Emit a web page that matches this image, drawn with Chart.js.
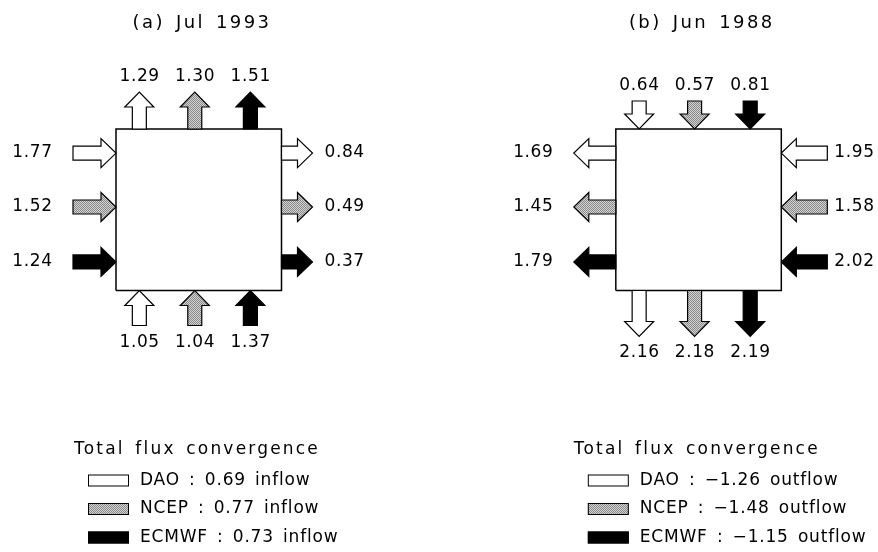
<!DOCTYPE html>
<html>
<head>
<meta charset="utf-8">
<script src="https://cdn.jsdelivr.net/npm/chart.js@4.4.1/dist/chart.umd.min.js"></script>
<style>
  html, body { margin: 0; padding: 0; background: #fff; }
  canvas { display: block; }
</style>
</head>
<body>
<canvas id="flux" width="878" height="552"></canvas>
<script>
// ---- data -------------------------------------------------------------
const models = ['DAO', 'NCEP', 'ECMWF'];
const panelTitles = ['(a) Jul 1993', '(b) Jun 1988'];

// Signed boundary fluxes: + eastward across W/E faces, + northward across S/N faces
const julWest  = [1.77, 1.52, 1.24];
const julEast  = [0.84, 0.49, 0.37];
const julSouth = [1.05, 1.04, 1.37];
const julNorth = [1.29, 1.30, 1.51];

const junWest  = [-1.69, -1.45, -1.79];
const junEast  = [-1.95, -1.58, -2.02];
const junSouth = [-2.16, -2.18, -2.19];
const junNorth = [-0.64, -0.57, -0.81];

// Net flux convergence over the box
const julConvergence = [0.69, 0.77, 0.73];
const junConvergence = [-1.26, -1.48, -1.15];

const legendTitle = 'Total flux convergence';

// ---- layout (box units: each box spans 0..1 in x and y) ----------------
const panelOffset = [0, 3.02];
const edgeSlots = [0.141, 0.476, 0.812];   // along N/S faces, one per model
const sideSlots = [0.851, 0.517, 0.177];   // along W/E faces, one per model

const panels = [
  { title: panelTitles[0], W: julWest, E: julEast, S: julSouth, N: julNorth, conv: julConvergence,
    len: { N: 37, S: 35, W: 43, E: 31 }, gap: { N: 15, S: 17, W: 21, E: 12 } },
  { title: panelTitles[1], W: junWest, E: junEast, S: junSouth, N: junNorth, conv: junConvergence,
    len: { N: 28, S: 46, W: 42, E: 46 }, gap: { N: 15, S: 16, W: 21, E: 7 } }
];

// outward normals in canvas pixels
const normals = { W: [-1, 0], E: [1, 0], S: [0, 1], N: [0, -1] };

// stippled grey used for NCEP
function stipple() {
  const c = document.createElement('canvas');
  c.width = 2; c.height = 2;
  const g = c.getContext('2d');
  g.fillStyle = '#d2d2d2'; g.fillRect(0, 0, 2, 2);
  g.fillStyle = '#8a8a8a'; g.fillRect(0, 0, 1, 1); g.fillRect(1, 1, 1, 1);
  return g.createPattern(c, 'repeat');
}
const ctx0 = document.getElementById('flux').getContext('2d');
const modelFill = ['#ffffff', stipple(), '#000000'];

// ---- datasets ---------------------------------------------------------
const datasets = [];

// box outlines
panelOffset.forEach(ox => {
  datasets.push({
    kind: 'box',
    type: 'line',
    data: [{x: ox, y: 0}, {x: ox + 1, y: 0}, {x: ox + 1, y: 1}, {x: ox, y: 1}, {x: ox, y: 0}],
    borderColor: '#000',
    borderWidth: 1.5,
    pointRadius: 0,
    fill: false,
    tension: 0
  });
});

// one arrow set per model
models.forEach((m, mi) => {
  const pts = [];
  panels.forEach((p, pi) => {
    const ox = panelOffset[pi];
    pts.push({ x: ox,                   y: sideSlots[mi], v: p.W[mi], side: 'W', panel: pi });
    pts.push({ x: ox + 1,               y: sideSlots[mi], v: p.E[mi], side: 'E', panel: pi });
    pts.push({ x: ox + edgeSlots[mi],   y: 0,             v: p.S[mi], side: 'S', panel: pi });
    pts.push({ x: ox + edgeSlots[mi],   y: 1,             v: p.N[mi], side: 'N', panel: pi });
  });
  datasets.push({
    kind: 'arrows',
    label: m,
    data: pts,
    arrowFill: modelFill[mi],
    pointRadius: 0,
    showLine: false
  });
});

// ---- drawing helpers --------------------------------------------------
const FONT = '"DejaVu Sans", sans-serif';

function drawArrow(ctx, tail, tip, fill) {
  const dx = tip[0] - tail[0], dy = tip[1] - tail[1];
  const len = Math.hypot(dx, dy);
  const ux = dx / len, uy = dy / len;
  const px = -uy, py = ux;
  const hw = 7, hh = 14.5, hl = 15;
  const hx = tip[0] - ux * hl, hy = tip[1] - uy * hl;
  ctx.beginPath();
  ctx.moveTo(tail[0] + px * hw, tail[1] + py * hw);
  ctx.lineTo(hx + px * hw, hy + py * hw);
  ctx.lineTo(hx + px * hh, hy + py * hh);
  ctx.lineTo(tip[0], tip[1]);
  ctx.lineTo(hx - px * hh, hy - py * hh);
  ctx.lineTo(hx - px * hw, hy - py * hw);
  ctx.lineTo(tail[0] - px * hw, tail[1] - py * hw);
  ctx.closePath();
  ctx.fillStyle = fill;
  ctx.fill();
  ctx.lineWidth = 1.2;
  ctx.strokeStyle = '#000';
  ctx.lineJoin = 'miter';
  ctx.stroke();
}

function text(ctx, str, x, y, align, size, spacing, wordSpacing) {
  ctx.save();
  ctx.font = size + 'px ' + FONT;
  ctx.letterSpacing = spacing + 'px';
  if (wordSpacing) ctx.wordSpacing = wordSpacing + 'px';
  ctx.fillStyle = '#000';
  ctx.textAlign = align;
  ctx.textBaseline = 'middle';
  let sx = x;
  if (align === 'center') sx += spacing / 2;
  if (align === 'right') sx += spacing;
  ctx.fillText(str, sx, y);
  ctx.restore();
}

const fluxArrows = {
  id: 'fluxArrows',
  afterDatasetsDraw(chart) {
    const ctx = chart.ctx;
    chart.data.datasets.forEach((ds, di) => {
      if (ds.kind !== 'arrows') return;
      const meta = chart.getDatasetMeta(di);
      meta.data.forEach((el, i) => {
        const p = ds.data[i];
        const st = panels[p.panel];
        const n = normals[p.side];
        const L = st.len[p.side];
        const s = Math.sign(p.v);
        const dir = (p.side === 'W' || p.side === 'E') ? [s, 0] : [0, -s];
        const inflow = dir[0] === -n[0] && dir[1] === -n[1];
        const ox = el.x + n[0] * L, oy = el.y + n[1] * L;
        const tail = inflow ? [ox, oy] : [el.x, el.y];
        const tip = inflow ? [el.x, el.y] : [ox, oy];
        drawArrow(ctx, tail, tip, ds.arrowFill);

        const g = st.gap[p.side];
        const lx = ox + n[0] * g, ly = oy + n[1] * g;
        const align = p.side === 'W' ? 'right' : p.side === 'E' ? 'left' : 'center';
        text(ctx, Math.abs(p.v).toFixed(2), lx, ly, align, 17, 0.6);
      });
    });
  },
  afterDraw(chart) {
    const ctx = chart.ctx;
    const xs = chart.scales.x, ys = chart.scales.y;
    panels.forEach((p, pi) => {
      const left = xs.getPixelForValue(panelOffset[pi]);
      const mid = xs.getPixelForValue(panelOffset[pi] + 0.5);
      const bottom = ys.getPixelForValue(0);
      text(ctx, p.title, mid + 2, 23, 'center', 18, 2.4, 3);

      // convergence key
      text(ctx, legendTitle, left - 42, bottom + 159, 'left', 17, 2.2, 3);
      models.forEach((m, mi) => {
        const rowY = bottom + 190 + mi * 28.5;
        ctx.save();
        ctx.fillStyle = modelFill[mi];
        ctx.fillRect(left - 28, rowY - 6, 41, 12);
        ctx.strokeStyle = '#000';
        ctx.lineWidth = 1;
        ctx.strokeRect(left - 27.5, rowY - 5.5, 40, 11);
        ctx.restore();
        const c = p.conv[mi];
        const val = (c < 0 ? '\u2212' + Math.abs(c).toFixed(2) + ' outflow' : c.toFixed(2) + ' inflow');
        text(ctx, m + ' : ' + val, left + 24, rowY, 'left', 17, 0.8, 3);
      });
    });
  }
};

new Chart(ctx0, {
  type: 'scatter',
  data: { datasets },
  options: {
    responsive: false,
    animation: false,
    devicePixelRatio: 1,
    layout: { padding: 0 },
    scales: {
      x: { type: 'linear', min: -0.7009, max: 4.6042, display: false },
      y: { type: 'linear', min: -1.6192, max: 1.7988, display: false }
    },
    plugins: {
      legend: { display: false },
      tooltip: { enabled: false },
      title: { display: false }
    },
    events: []
  },
  plugins: [fluxArrows]
});
</script>
</body>
</html>
